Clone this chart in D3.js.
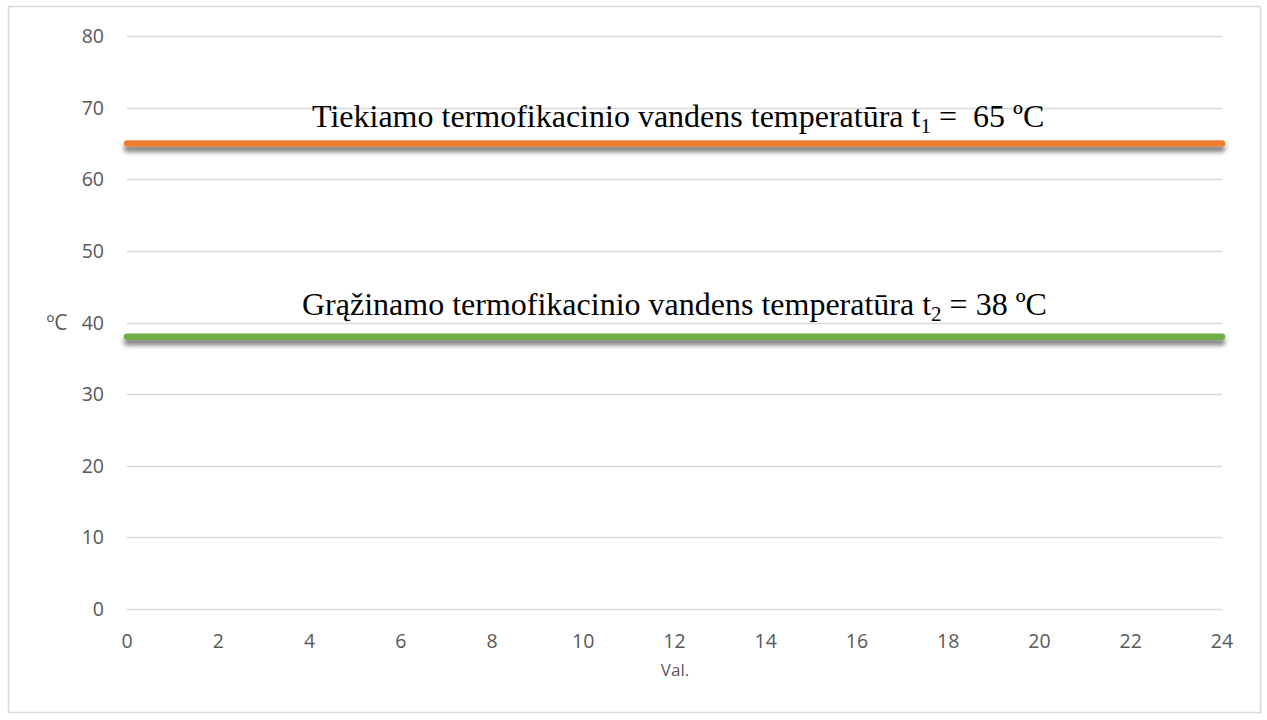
<!DOCTYPE html>
<html><head><meta charset="utf-8">
<script src="https://cdn.jsdelivr.net/npm/d3@7/dist/d3.min.js"></script>
<style>body{margin:0;background:#fff}svg{display:block}text{white-space:pre}</style>
</head><body><svg id="c" width="1267" height="720"></svg>
<script>
const hours = [0,1,2,3,4,5,6,7,8,9,10,11,12,13,14,15,16,17,18,19,20,21,22,23,24];
const supplyTemp = [65,65,65,65,65,65,65,65,65,65,65,65,65,65,65,65,65,65,65,65,65,65,65,65,65];
const returnTemp = [38,38,38,38,38,38,38,38,38,38,38,38,38,38,38,38,38,38,38,38,38,38,38,38,38];
const xTicks = [0,2,4,6,8,10,12,14,16,18,20,22,24];
const yTicks = [0,10,20,30,40,50,60,70,80];
const seriesNames = ["Tiekiamo termofikacinio vandens temperatūra t", "Grąžinamo termofikacinio vandens temperatūra t"];
const xTitle = "Val.";
const yTitle = "ºC";

const svg = d3.select("#c");
svg.append("rect").attr("x",8.5).attr("y",6.5).attr("width",1252).attr("height",706)
  .attr("fill","#fff").attr("stroke","#d9d9d9").attr("stroke-width",1.5);

const x = d3.scaleLinear().domain([0,24]).range([127,1222]);
const y = d3.scaleLinear().domain([0,80]).range([609,36]);

const defs = svg.append("defs");
const f = defs.append("filter").attr("id","sh").attr("filterUnits","userSpaceOnUse")
  .attr("x",0).attr("y",0).attr("width",1267).attr("height",720);
f.append("feDropShadow").attr("dx",0).attr("dy",5).attr("stdDeviation",2.5).attr("flood-color","#000").attr("flood-opacity",0.55);

svg.append("g").selectAll("line").data(yTicks).join("line")
  .attr("x1",x(0)).attr("x2",x(24)).attr("y1",d=>Math.round(y(d))+0.5).attr("y2",d=>Math.round(y(d))+0.5)
  .attr("stroke","#d9d9d9").attr("stroke-width",1.3);

const font = "'Open Sans', 'Liberation Sans', sans-serif";
svg.append("g").selectAll("text").data(yTicks).join("text")
  .attr("x",104).attr("y",d=>y(d)+7).attr("text-anchor","end")
  .attr("font-family",font).attr("font-size",19.5).attr("fill","#595959").text(d=>d);
svg.append("g").selectAll("text").data(xTicks).join("text")
  .attr("x",d=>x(d)).attr("y",648).attr("text-anchor","middle")
  .attr("font-family",font).attr("font-size",19.5).attr("fill","#595959").text(d=>d);
svg.append("text").attr("x",675).attr("y",676).attr("text-anchor","middle")
  .attr("font-family",font).attr("font-size",17).attr("fill","#595959").text(xTitle);
svg.append("text").attr("x",57).attr("y",330).attr("text-anchor","middle")
  .attr("font-family",font).attr("font-size",21).attr("fill","#595959").text(yTitle);

const line = d3.line().x((d,i)=>x(hours[i])).y(d=>y(d));
[[supplyTemp,"#ed7d31"],[returnTemp,"#70ad47"]].forEach(([vals,col])=>{
  svg.append("path").datum(vals).attr("d",line).attr("fill","none")
    .attr("stroke",col).attr("stroke-width",6.5).attr("stroke-linecap","round")
    .attr("filter","url(#sh)");
});

const serif = "'Liberation Serif','Times New Roman',serif";
const t1 = svg.append("text").attr("x",312).attr("y",127).attr("font-family",serif).attr("font-size",32).attr("fill","#000");
t1.append("tspan").text(seriesNames[0]);
t1.append("tspan").attr("font-size",21).attr("dy",6).text("1");
t1.append("tspan").attr("dy",-6).text(" =  " + supplyTemp[0] + " ºC");
const t2 = svg.append("text").attr("x",302).attr("y",315).attr("font-family",serif).attr("font-size",32).attr("fill","#000");
t2.append("tspan").text(seriesNames[1]);
t2.append("tspan").attr("font-size",21).attr("dy",6).text("2");
t2.append("tspan").attr("dy",-6).text(" = " + returnTemp[0] + " ºC");
</script></body></html>
